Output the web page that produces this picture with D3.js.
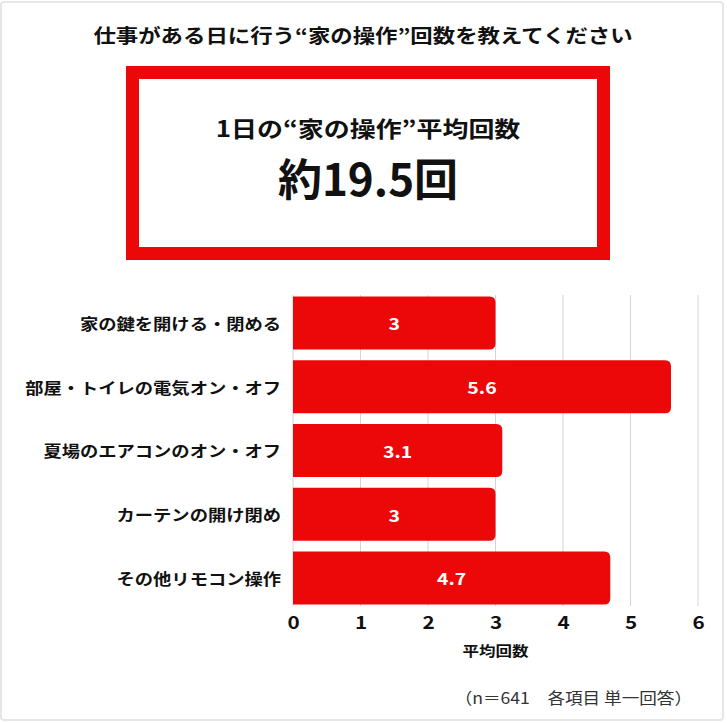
<!DOCTYPE html>
<html><head><meta charset="utf-8">
<script src="https://cdn.jsdelivr.net/npm/d3@7"></script>
<style>
html,body{margin:0;padding:0;background:#fff;}
svg{display:block;font-family:"Noto Sans CJK JP","Noto Sans",sans-serif;}
</style></head>
<body>
<script>
const categories = ["家の鍵を開ける・閉める","部屋・トイレの電気オン・オフ","夏場のエアコンのオン・オフ","カーテンの開け閉め","その他リモコン操作"];
const values = [3, 5.6, 3.1, 3, 4.7];
const valueLabels = ["3","5.6","3.1","3","4.7"];
const xTicks = [0,1,2,3,4,5,6];
const title = "仕事がある日に行う“家の操作”回数を教えてください";
const boxLine1 = "1日の“家の操作”平均回数";
const boxLine2 = "約19.5回";
const axisTitle = "平均回数";
const footnote = "（n＝641　各項目 単一回答）";

const W = 727, H = 723, SX = 1.18;
const RED = "#ec0808";

const svg = d3.select("body").append("svg").attr("width", W).attr("height", H);
svg.append("rect").attr("x",1).attr("y",2).attr("width",722).attr("height",718)
  .attr("fill","#fff").attr("stroke","#e6e6e6").attr("stroke-width",2).attr("rx",3);

function txt(x, y, s, size, weight, anchor, color, sx) {
  return svg.append("text")
    .attr("transform", `translate(${x},${y}) scale(${sx || SX},1)`)
    .attr("text-anchor", anchor || "middle")
    .attr("dominant-baseline", "central")
    .attr("font-size", size).attr("font-weight", weight)
    .attr("fill", color || "#111").text(s);
}

txt(363, 35, title, 19, 700);

// red highlight box
svg.append("rect").attr("x",132.5).attr("y",72.5).attr("width",471).attr("height",181)
  .attr("fill","#fff").attr("stroke",RED).attr("stroke-width",13);
txt(368, 127, boxLine1, 22, 700);
txt(368, 177, boxLine2, 44, 700, "middle", "#111", 1.0);

// chart
const x = d3.scaleLinear().domain([0,6]).range([293,698]);
const y = d3.scaleBand().domain(categories).range([291,610]).paddingInner(0.17).paddingOuter(0.085);

svg.append("g").selectAll("line").data(xTicks).join("line")
  .attr("x1", d=>x(d)).attr("x2", d=>x(d)).attr("y1", 295).attr("y2", 606)
  .attr("stroke","#d4d4d4").attr("stroke-width",1);

const r = 6;
svg.append("g").selectAll("path").data(values).join("path")
  .attr("fill", RED)
  .attr("d", (d,i) => {
    const x0 = x(0), x1 = x(d), y0 = y(categories[i]), h = y.bandwidth();
    return `M${x0},${y0}H${x1-r}Q${x1},${y0} ${x1},${y0+r}V${y0+h-r}Q${x1},${y0+h} ${x1-r},${y0+h}H${x0}Z`;
  });

values.forEach((d,i) => {
  txt((x(0)+x(d))/2, y(categories[i]) + y.bandwidth()/2, valueLabels[i], 16.5, 700, "middle", "#fff");
});

// y axis (category labels)
const ya = svg.append("g").attr("transform","translate(293,0)")
  .call(d3.axisLeft(y).tickSize(0));
ya.select(".domain").remove();
ya.selectAll("text")
  .attr("x", null).attr("dy", null)
  .attr("transform", `translate(-12,0) scale(${SX},1)`)
  .attr("dominant-baseline","central")
  .attr("text-anchor","end")
  .attr("font-family", '"Noto Sans CJK JP",sans-serif')
  .attr("font-size", 15.5).attr("font-weight", 700).attr("fill","#111");

// x axis
const xa = svg.append("g").attr("transform","translate(0,605)")
  .call(d3.axisBottom(x).tickValues(xTicks).tickSize(0).tickFormat(d3.format("d")));
xa.select(".domain").remove();
xa.selectAll("text")
  .attr("y", 16.5).attr("dy", null)
  .attr("transform", `scale(${SX},1)`)
  .attr("dominant-baseline","central")
  .attr("font-family", '"Noto Sans CJK JP",sans-serif')
  .attr("font-size", 17.5).attr("font-weight", 700).attr("fill","#111");

txt(495.5, 650, axisTitle, 14, 700);
txt(692, 697, footnote, 16, 400, "end", "#333", 1.1);
</script>
</body></html>
